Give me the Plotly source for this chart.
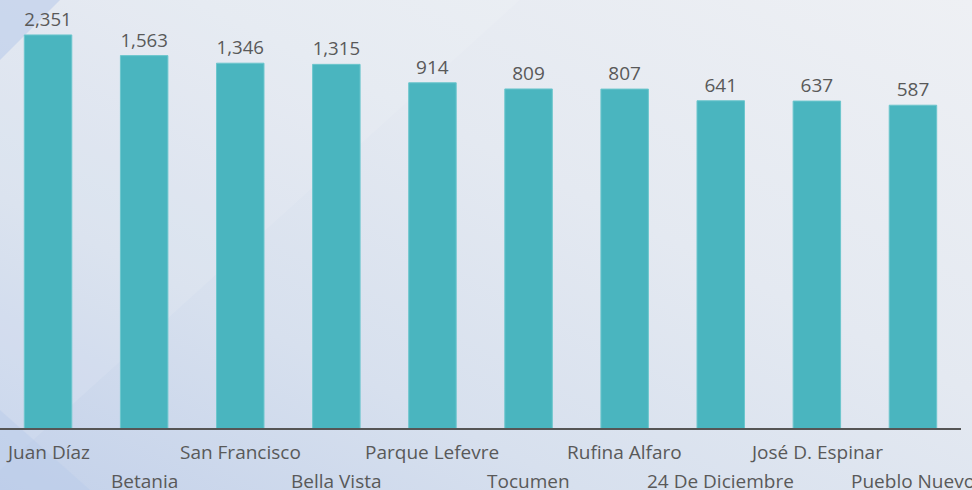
import base64
import plotly.graph_objects as go

categories = ["Juan Díaz", "Betania", "San Francisco", "Bella Vista", "Parque Lefevre",
              "Tocumen", "Rufina Alfaro", "24 De Diciembre", "José D. Espinar", "Pueblo Nuevo"]
values = [2351, 1563, 1346, 1315, 914, 809, 807, 641, 637, 587]

BAR = "#4ab5bf"
TXT = "#595959"
FONT = "Open Sans, Noto Sans, sans-serif"

W, H = 972, 490
ML, MR, MT, MB = 0, 11, 0, 62

svg = f"""<svg xmlns='http://www.w3.org/2000/svg' width='{W}' height='{H}' viewBox='0 0 {W} {H}' preserveAspectRatio='none'>
<defs><linearGradient id='g' x1='0' y1='1' x2='1' y2='0'>
<stop offset='0' stop-color='#c3d1ea'/><stop offset='0.3' stop-color='#d7e0ee'/>
<stop offset='0.6' stop-color='#e4e9f1'/><stop offset='1' stop-color='#eef0f4'/></linearGradient></defs>
<rect width='{W}' height='{H}' fill='url(#g)'/>
<polygon points='0,0 60,0 0,60' fill='#bccdeb' opacity='0.6'/>
<polygon points='60,0 520,0 0,470 0,60' fill='#ffffff' opacity='0.10'/>
<polygon points='0,490 90,490 0,410' fill='#b9cbea' opacity='0.5'/>
</svg>"""
src = "data:image/svg+xml;base64," + base64.b64encode(svg.encode()).decode()

pw, ph = W - ML - MR, H - MT - MB

fig = go.Figure(go.Bar(
    x=categories, y=values,
    marker=dict(color=BAR, line=dict(color="#6cc6cd", width=1)),
    text=[f"{v:,}" for v in values], textposition="outside",
    textfont=dict(family=FONT, size=19, color=TXT),
    cliponaxis=False, hoverinfo="x+y",
))

for i, c in enumerate(categories):
    fig.add_annotation(x=c, xref="x", y=0, yref="paper", yanchor="middle",
                       yshift=-24 if i % 2 == 0 else -53, text=c, showarrow=False,
                       font=dict(family=FONT, size=19, color=TXT))

fig.update_layout(
    width=W, height=H, margin=dict(l=ML, r=MR, t=MT, b=MB, autoexpand=False),
    paper_bgcolor="#e3e8f0", plot_bgcolor="rgba(0,0,0,0)",
    bargap=0.506, showlegend=False,
    images=[dict(source=src, xref="paper", yref="paper", x=-ML / pw, y=1 + MT / ph,
                 sizex=W / pw, sizey=H / ph, sizing="stretch", layer="below",
                 xanchor="left", yanchor="top")],
    xaxis=dict(showticklabels=False, ticks="", showline=True, linecolor="#555555",
               linewidth=2, showgrid=False, zeroline=False,
               range=[-0.5, len(categories) - 0.5], autorange=False),
    yaxis=dict(type="log", range=[0, 3.671], visible=False, showgrid=False),
)

fig.write_html("out.html", config={"displayModeBar": False},
               post_script="document.body.style.margin='0';document.body.style.padding='0';document.body.style.overflow='hidden';")
